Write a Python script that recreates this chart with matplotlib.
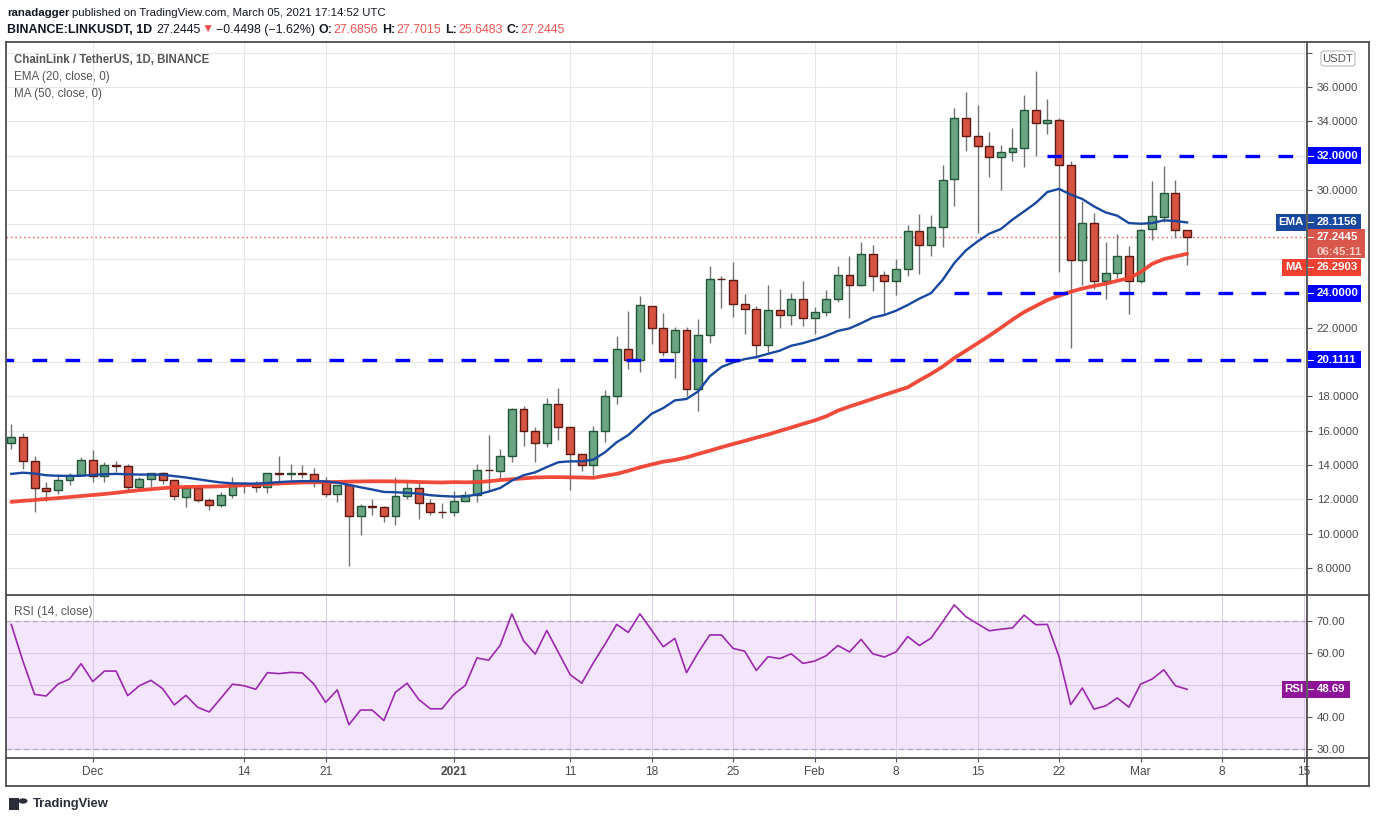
"""
LINKUSDT daily chart (TradingView style) with EMA20 / MA50, key levels and RSI(14).
Writes out.png (1376x823).
"""
import numpy as np
import pandas as pd
import matplotlib
matplotlib.use("Agg")
import matplotlib.pyplot as plt
from matplotlib.patches import Rectangle, FancyBboxPatch, Circle
from matplotlib.lines import Line2D
from matplotlib.ticker import FuncFormatter

# ----------------------------- data ---------------------
start = "2020-11-24"
opens = [15.26, 15.64, 14.21, 12.65, 12.53, 13.11, 13.40, 14.27, 13.34, 13.98,
         13.96, 12.71, 13.17, 13.52, 13.11, 12.11, 12.65, 11.95, 11.66, 12.24,
         12.92, 12.90, 12.71, 13.52, 13.50, 13.51, 13.50, 13.05, 12.30, 12.82,
         11.02, 11.60, 11.58, 11.02, 12.18, 12.65, 11.78, 11.26, 11.26, 11.93,
         12.26, 13.71, 13.65, 14.52, 17.26, 15.98, 15.28, 17.55, 16.21, 14.64,
         14.00, 15.98, 18.01, 20.74, 20.10, 23.24, 22.00, 20.57, 21.85, 18.42,
         21.56, 24.84, 24.78, 23.37, 23.08, 20.97, 23.02, 22.73, 23.66, 22.55,
         22.90, 23.66, 25.05, 24.46, 26.27, 25.03, 24.70, 25.40, 27.61, 26.80,
         27.85, 30.65, 34.21, 33.16, 32.58, 31.93, 32.23, 32.46, 34.68, 33.92,
         34.09, 31.47, 25.92, 28.08, 24.70, 25.16, 26.16, 24.70, 27.73, 28.43,
         29.83, 27.6856]
highs = [16.38, 15.87, 14.52, 13.01, 13.46, 13.54, 14.44, 14.87, 14.15, 14.23,
         14.06, 13.32, 13.52, 13.57, 13.11, 12.82, 12.69, 12.05, 12.40, 13.30,
         13.01, 13.05, 13.52, 14.52, 14.06, 13.98, 13.80, 13.27, 12.82, 12.82,
         11.72, 11.99, 11.60, 13.30, 12.98, 12.98, 12.01, 11.80, 12.49, 12.51,
         14.08, 15.72, 14.95, 17.31, 17.45, 16.23, 17.91, 18.50, 16.21, 14.64,
         16.29, 18.38, 21.48, 22.97, 23.81, 23.24, 22.86, 22.02, 22.02, 22.51,
         25.56, 24.97, 25.81, 23.98, 23.27, 24.50, 24.27, 24.02, 24.68, 23.21,
         24.21, 25.61, 26.18, 26.99, 26.82, 25.30, 26.00, 27.98, 28.63, 28.57,
         31.47, 34.75, 35.69, 34.93, 33.41, 32.65, 33.59, 35.51, 36.91, 35.28,
         34.21, 31.72, 29.35, 28.68, 26.99, 27.46, 26.76, 27.75, 30.55, 31.43,
         30.61, 27.7015]
lows = [14.93, 13.77, 11.29, 11.93, 12.32, 12.86, 13.40, 13.03, 13.03, 13.61,
        12.51, 12.55, 12.74, 12.90, 11.97, 11.58, 11.87, 11.39, 11.58, 12.05,
        12.34, 12.45, 12.34, 13.03, 13.13, 13.23, 12.71, 12.16, 11.82, 8.11,
        9.90, 11.06, 10.66, 10.48, 11.99, 10.83, 11.06, 10.89, 11.02, 11.89,
        11.83, 12.41, 13.09, 14.16, 15.09, 14.16, 15.05, 15.47, 12.53, 13.67,
        13.40, 15.32, 17.55, 19.60, 19.39, 21.02, 20.36, 19.04, 18.03, 17.12,
        21.12, 23.12, 22.59, 21.65, 20.23, 20.46, 22.00, 22.12, 22.06, 21.65,
        22.69, 23.51, 22.58, 24.39, 24.15, 22.77, 23.92, 24.97, 25.09, 26.19,
        26.66, 29.05, 32.26, 27.48, 30.75, 29.99, 31.72, 31.33, 31.97, 33.26,
        25.22, 20.79, 24.50, 24.23, 23.65, 24.87, 22.81, 24.58, 27.11, 28.12,
        27.21, 25.6483]
closes = [15.64, 14.21, 12.65, 12.51, 13.11, 13.40, 14.27, 13.34, 13.98, 13.96,
          12.71, 13.17, 13.52, 13.11, 12.18, 12.65, 11.95, 11.66, 12.24, 12.92,
          12.90, 12.71, 13.52, 13.50, 13.51, 13.50, 13.05, 12.30, 12.82, 11.02,
          11.60, 11.58, 11.02, 12.18, 12.65, 11.78, 11.26, 11.24, 11.89, 12.26,
          13.71, 13.69, 14.52, 17.26, 15.98, 15.28, 17.55, 16.21, 14.64, 14.00,
          15.98, 18.01, 20.74, 20.10, 23.30, 22.00, 20.57, 21.85, 18.42, 21.56,
          24.84, 24.82, 23.37, 23.08, 20.97, 23.02, 22.73, 23.66, 22.55, 22.90,
          23.66, 25.06, 24.46, 26.27, 24.99, 24.70, 25.40, 27.61, 26.80, 27.85,
          30.59, 34.21, 33.16, 32.58, 31.93, 32.23, 32.46, 34.68, 33.92, 34.09,
          31.47, 25.92, 28.08, 24.70, 25.16, 26.16, 24.70, 27.67, 28.49, 29.83,
          27.67, 27.2445]
ema20 = [13.48, 13.55, 13.50, 13.40, 13.37, 13.36, 13.37, 13.42, 13.46, 13.48,
         13.46, 13.44, 13.44, 13.43, 13.35, 13.27, 13.17, 13.07, 12.98, 12.93,
         12.92, 12.91, 12.95, 13.00, 13.04, 13.06, 13.06, 13.04, 12.97, 12.84,
         12.70, 12.57, 12.43, 12.41, 12.38, 12.33, 12.24, 12.19, 12.16, 12.17,
         12.28, 12.45, 12.66, 13.09, 13.40, 13.57, 13.88, 14.16, 14.21, 14.21,
         14.31, 14.74, 15.32, 15.74, 16.36, 16.98, 17.31, 17.76, 17.84, 18.28,
         19.16, 19.70, 19.97, 20.16, 20.28, 20.47, 20.65, 20.94, 21.09, 21.29,
         21.52, 21.80, 21.95, 22.25, 22.58, 22.73, 22.98, 23.31, 23.68, 24.00,
         24.77, 25.75, 26.49, 27.01, 27.46, 27.73, 28.28, 28.76, 29.25, 29.89,
         30.07, 29.74, 29.48, 29.05, 28.70, 28.51, 28.08, 28.04, 28.08, 28.24,
         28.20, 28.1156]
ma50 = [11.85, 11.91, 11.96, 12.02, 12.07, 12.13, 12.19, 12.25, 12.31, 12.38,
        12.46, 12.53, 12.59, 12.65, 12.70, 12.72, 12.73, 12.74, 12.76, 12.79,
        12.82, 12.85, 12.89, 12.92, 12.95, 12.98, 12.99, 13.00, 13.01, 13.03,
        13.04, 13.05, 13.05, 13.04, 13.03, 13.01, 12.99, 12.98, 13.00, 12.99,
        13.00, 13.05, 13.12, 13.17, 13.22, 13.27, 13.29, 13.29, 13.28, 13.27,
        13.25, 13.37, 13.48, 13.66, 13.86, 14.03, 14.19, 14.29, 14.44, 14.64,
        14.83, 15.03, 15.22, 15.40, 15.59, 15.77, 15.98, 16.18, 16.39, 16.59,
        16.83, 17.16, 17.40, 17.62, 17.85, 18.08, 18.30, 18.52, 18.92, 19.30,
        19.72, 20.22, 20.65, 21.08, 21.52, 21.98, 22.46, 22.90, 23.25, 23.60,
        23.85, 24.08, 24.27, 24.42, 24.55, 24.72, 24.87, 25.22, 25.71, 25.98,
        26.14, 26.2903]
rsi14 = [68.96, 57.5, 47.1, 46.6, 50.3, 51.9, 56.7, 51.1, 54.4, 54.4,
         46.7, 49.8, 51.5, 48.9, 43.8, 46.8, 43.1, 41.6, 45.9, 50.3,
         49.8, 48.7, 53.9, 53.6, 54.0, 53.8, 50.3, 44.6, 48.5, 37.6,
         42.2, 42.2, 38.9, 47.8, 50.6, 45.5, 42.6, 42.6, 47.1, 49.9,
         58.5, 57.8, 62.5, 72.3, 63.9, 59.7, 67.1, 60.2, 53.3, 50.6,
         57.0, 62.8, 69.0, 66.5, 72.3, 67.2, 62.0, 64.6, 53.9, 60.2,
         65.7, 65.7, 61.5, 60.6, 54.6, 58.9, 58.3, 59.8, 56.8, 57.5,
         59.2, 62.4, 60.4, 64.3, 59.8, 58.8, 60.4, 65.2, 62.4, 64.7,
         69.8, 75.1, 71.4, 69.2, 67.0, 67.5, 67.9, 71.9, 68.9, 69.0,
         58.9, 43.9, 49.1, 42.5, 43.5, 46.0, 43.1, 50.3, 51.9, 54.8,
         49.8, 48.69]

levels = [20.1111, 24.0, 32.0]
level_from = ["2020-11-20", "2021-02-13", "2021-02-21"]   # where each drawn line starts

tick_dates = ["2020-12-01", "2020-12-14", "2020-12-21", "2021-01-01", "2021-01-11",
              "2021-01-18", "2021-01-25", "2021-02-01", "2021-02-08", "2021-02-15",
              "2021-02-22", "2021-03-01", "2021-03-08", "2021-03-15"]
tick_labels = ["Dec", "14", "21", "2021", "11", "18", "25", "Feb", "8", "15",
               "22", "Mar", "8", "15"]
price_ticks = [8, 10, 12, 14, 16, 18, 20, 22, 24, 26, 28, 30, 32, 34, 36, 38]
rsi_ticks = [30, 40, 50, 60, 70]

# ----------------------------- style ----------------------------------------
FONTS = ["Liberation Sans", "DejaVu Sans"]
plt.rcParams["font.family"] = FONTS
W, H = 1376, 823
UP, UP_EDGE = "#6ba583", "#225437"
DN, DN_EDGE = "#d75442", "#5b1a13"
EMA_C, MA_C, LVL_C = "#1848a0", "#f0402f", "#0000ff"
RSI_C, RSI_FILL = "#9c27b0", "#f3e6fc"
GRID, FRAME, TXT, AX_TXT = "#e6e6e6", "#4d4d4d", "#131722", "#4a4a4a"
RED_TXT = "#ef5350"

o, h, l, c = map(np.array, (opens, highs, lows, closes))
t0 = pd.Timestamp(start)
idx = np.arange(len(c))
day = lambda d: (pd.Timestamp(d) - t0).days

fig = plt.figure(figsize=(W / 100, H / 100), dpi=100)


def px_axes(x0, y0, x1, y1):
    return fig.add_axes([x0 / W, 1 - y1 / H, (x1 - x0) / W, (y1 - y0) / H])


def ptext(x, y, s, **kw):
    kw.setdefault("va", "center")
    return fig.text(x / W, 1 - y / H, s, **kw)


def prect(x0, y0, x1, y1, **kw):
    fig.add_artist(Rectangle((x0 / W, 1 - y1 / H), (x1 - x0) / W, (y1 - y0) / H,
                             transform=fig.transFigure, **kw))


def pline(x0, y0, x1, y1, **kw):
    fig.add_artist(Line2D([x0 / W, x1 / W], [1 - y0 / H, 1 - y1 / H],
                          transform=fig.transFigure, **kw))


def ypix(ax, v):
    return H - ax.transData.transform((0, v))[1]


tag_rows = {}   # axes -> pixel rows covered by a scale tag (their tick labels are hidden)


def style_axes(ax, fmt):
    for s in ax.spines.values():
        s.set_visible(False)
    ax.set_xlim(-0.455, 111.3)
    ax.set_xticks([day(d) for d in tick_dates])
    ax.grid(True, color=GRID, lw=0.75)
    ax.set_axisbelow(True)
    ax.yaxis.tick_right()
    tag_rows[ax] = []

    def f(v, _):
        if any(abs(ypix(ax, v) - r) < 11 for r in tag_rows[ax]):
            return ""
        return fmt.format(v)
    ax.yaxis.set_major_formatter(FuncFormatter(f))
    ax.tick_params(axis="y", direction="out", length=3.6, width=0.8, color="#555555",
                   pad=3.4, labelsize=8.2, labelcolor=AX_TXT)


# ----------------------------- price panel ----------------------------------
ax = px_axes(6, 42, 1307, 595)
style_axes(ax, "{:.4f}")
ax.set_ylim(6.43, 38.62)
ax.set_yticks(price_ticks)
ax.tick_params(axis="x", length=0, labelbottom=False)

ax.vlines(idx, l, h, color="#737375", lw=1.0, zorder=2)
up = c >= o
lo, ht = np.minimum(o, c), np.maximum(np.abs(c - o), 0.02)
ax.bar(idx[up], ht[up], bottom=lo[up], width=0.68, color=UP, edgecolor=UP_EDGE, lw=1.0, zorder=3)
ax.bar(idx[~up], ht[~up], bottom=lo[~up], width=0.68, color=DN, edgecolor=DN_EDGE, lw=1.0, zorder=3)

ax.plot(idx, ma50, color=MA_C, lw=2.7, alpha=0.95, zorder=4, solid_capstyle="round")
ax.plot(idx, ema20, color=EMA_C, lw=1.7, zorder=4)
ax.axhline(c[-1], color="#e0584a", lw=1.0, ls=(0, (1, 2.2)), zorder=1.8)
for lv, d0 in zip(levels, level_from):
    ax.hlines(lv, day(d0), 111.3, colors=LVL_C, lw=2.4, linestyles=(0, (4.4, 5.5)), zorder=5)

ptext(14, 60, "ChainLink / TetherUS, 1D, BINANCE", fontsize=8.3, fontweight="bold", color="#555555")
ptext(14, 77, "EMA (20, close, 0)", fontsize=8.4, color="#555555")
ptext(14, 94, "MA (50, close, 0)", fontsize=8.4, color="#555555")

# ----------------------------- RSI panel ------------------------------------
ar = px_axes(6, 595, 1307, 758)
style_axes(ar, "{:.2f}")
ar.set_ylim(27.2, 78.2)
ar.set_yticks(rsi_ticks)
ar.grid(True, color="#dccbe6", lw=0.75)
ar.axhspan(30, 70, color=RSI_FILL, lw=0, zorder=0.2)
for lv in (30, 70):
    ar.axhline(lv, color="#b3a6b8", lw=0.9, ls=(0, (4, 3)), zorder=0.6)
ar.plot(idx, rsi14, color=RSI_C, lw=1.2, zorder=3)
ar.set_xticklabels(tick_labels)
ar.tick_params(axis="x", direction="out", length=3, width=0.8, color="#555555",
               pad=2.5, labelsize=8.6, labelcolor=AX_TXT)
for lab in ar.get_xticklabels():
    if lab.get_text() == "2021":
        lab.set_fontweight("bold")
ptext(14, 612, "RSI (14, close)", fontsize=8.6, color="#555555")

# ----------------------------- frame ----------------------------------------
fk = dict(color=FRAME, lw=1.3, zorder=20)
pline(6, 42, 1369, 42, **fk)
pline(6, 786, 1369, 786, **fk)
pline(6, 42, 6, 786, **fk)
pline(1369, 42, 1369, 786, **fk)
pline(6, 595, 1369, 595, **fk)
pline(6, 758, 1369, 758, **fk)
pline(1307, 42, 1307, 786, **fk)


# ----------------------------- scale tags -----------------------------------
def tag(a, yc, text, fc, x1=1361, hgt=17, size=8.2):
    tag_rows[a].append(yc)
    prect(1307.6, yc - hgt / 2, x1, yc + hgt / 2, fc=fc, ec="none", zorder=21)
    pline(1308, yc, 1312.5, yc, color="white", lw=0.8, zorder=22)
    ptext(1316.5, yc, text, fontsize=size, fontweight="bold", color="white", zorder=22)


def side_tag(yc, text, fc, x0, hgt=17):
    prect(x0, yc - hgt / 2, 1305.5, yc + hgt / 2, fc=fc, ec="none", zorder=21)
    ptext((x0 + 1305.5) / 2, yc, text, fontsize=8.2, fontweight="bold", color="white",
          ha="center", zorder=22)


for lv in levels:
    tag(ax, ypix(ax, lv), f"{lv:.4f}", LVL_C)

y_ema = ypix(ax, ema20[-1])
side_tag(y_ema, "EMA", EMA_C, 1276)
tag(ax, y_ema, f"{ema20[-1]:.4f}", EMA_C)

y_px = ypix(ax, c[-1])
tag_rows[ax] += [y_px, y_px + 13]
prect(1307.6, y_px - 8.3, 1365, y_px + 20.7, fc="#d9574a", ec="none", zorder=21)
pline(1308, y_px, 1312.5, y_px, color="white", lw=0.8, zorder=22)
ptext(1316.5, y_px, f"{c[-1]:.4f}", fontsize=8.2, fontweight="bold", color="white", zorder=22)
ptext(1316.5, y_px + 14.5, "06:45:11", fontsize=8.2, fontweight="bold", color="#f6cfc8", zorder=22)

y_ma = max(ypix(ax, ma50[-1]), y_px + 20.7 + 9)
side_tag(y_ma, "MA", MA_C, 1282)
tag(ax, y_ma, f"{ma50[-1]:.4f}", MA_C)

y_rsi = ypix(ar, rsi14[-1])
side_tag(y_rsi, "RSI", "#8e1599", 1282)
tag(ar, y_rsi, f"{rsi14[-1]:.2f}", "#8e1599", x1=1350)

# USDT unit box sits over the top price label
tag_rows[ax].append(ypix(ax, 38))
fig.add_artist(FancyBboxPatch((1321 / W, 1 - 66 / H), 34 / W, 15 / H,
                              boxstyle="round,pad=0,rounding_size=0.003",
                              transform=fig.transFigure, fc="white", ec="#c4c4c4",
                              lw=0.9, zorder=21))
ptext(1338, 58.5, "USDT", fontsize=8.2, color="#555555", ha="center", zorder=22)

# ----------------------------- header ---------------------------------------
rend = fig.canvas.get_renderer()


def runs(x, y, parts, size):
    for s, col, wt, gap in parts:
        t = ptext(x, y, s, fontsize=size, color=col, fontweight=wt, family=FONTS)
        x += t.get_window_extent(rend).width + gap


runs(7, 13, [("ranadagger", TXT, "bold", 3),
             ("published on TradingView.com, March 05, 2021 17:14:52 UTC", TXT, "normal", 0)], 8.2)
runs(7, 30, [("BINANCE:LINKUSDT, 1D", TXT, "bold", 4),
             (f"{c[-1]:.4f}", TXT, "normal", 1),
             ("▼", RED_TXT, "normal", 2),
             ("−0.4498 (−1.62%)", TXT, "normal", 4),
             ("O:", TXT, "bold", 1), (f"{o[-1]:.4f}", RED_TXT, "normal", 4),
             ("H:", TXT, "bold", 1), (f"{h[-1]:.4f}", RED_TXT, "normal", 4),
             ("L:", TXT, "bold", 1), (f"{l[-1]:.4f}", RED_TXT, "normal", 4),
             ("C:", TXT, "bold", 1), (f"{c[-1]:.4f}", RED_TXT, "normal", 0)], 8.9)

# ----------------------------- logo -----------------------------------------
prect(9, 798, 19, 810, fc="#2a2e39", ec="none")
fig.add_artist(Circle((23 / W, 1 - 801 / H), 4.5 / W,
                      transform=fig.transFigure, fc="#2a2e39", ec="none"))
ptext(33, 804, "TradingView", fontsize=9.4, fontweight="bold", color="#2a2e39")

fig.savefig("out.png", dpi=100)
